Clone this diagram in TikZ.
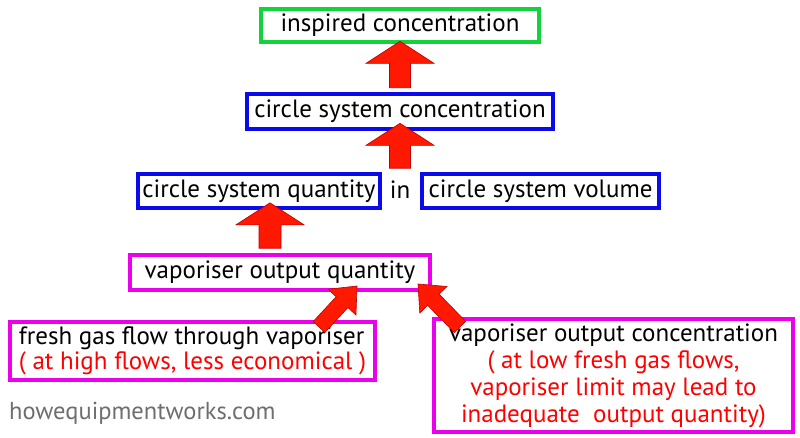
\documentclass[tikz,border=0pt]{standalone}
\usepackage{fontspec}
\setmainfont{PT Sans}
\usetikzlibrary{calc}
\definecolor{boxgreen}{RGB}{20,210,60}
\definecolor{boxblue}{RGB}{10,10,235}
\definecolor{boxmag}{RGB}{235,0,235}
\definecolor{txtred}{RGB}{255,0,0}
\definecolor{arrfill}{RGB}{255,25,0}
\definecolor{arredge}{RGB}{190,0,0}
\definecolor{wmgray}{RGB}{110,110,110}
\tikzset{
  box/.style={draw, line width=3.6pt, inner sep=0pt, font=\fontsize{25}{25}\selectfont},
  gbox/.style={box, draw=boxgreen},
  bbox/.style={box, draw=boxblue},
  mbox/.style={box, draw=boxmag},
  plain/.style={inner sep=0pt, font=\fontsize{25}{25}\selectfont},
  arrowstyle/.style={fill=arrfill, draw=arredge, line width=0.6pt, line join=miter},
}
\newcommand\bigarrow[5]{%
  \coordinate (neck) at ($(#2)!#5!(#1)$);
  \draw[arrowstyle] ($(#1)!#3!90:(#2)$) -- ($(neck)!#3!90:(#2)$) -- ($(neck)!#4!90:(#2)$)
    -- (#2) -- ($(neck)!#4!-90:(#2)$) -- ($(neck)!#3!-90:(#2)$) -- ($(#1)!#3!-90:(#2)$) -- cycle;}
\begin{document}
\begin{tikzpicture}[x=1pt,y=-1pt]
\useasboundingbox[fill=white] (0,0) rectangle (800,437);

\node[gbox, minimum width=278pt, minimum height=33pt] (insp) at (400,25.5) {inspired concentration};
\node[bbox, minimum width=306pt, minimum height=35pt] (csc) at (400,111.5) {circle system concentration};
\node[bbox, minimum width=242pt, minimum height=34pt] (csq) at (259,191) {circle system quantity};
\node[plain] (in) at (400,190) {in};
\node[bbox, minimum width=237pt, minimum height=34pt] (csv) at (540.5,191) {circle system volume};
\node[mbox, minimum width=300pt, minimum height=35pt] (voq) at (280,272.5) {vaporiser output quantity};
\node[mbox, minimum width=365pt, minimum height=58pt, align=left] (fgf) at (192.5,351)
  {fresh gas flow through vaporiser\\\textcolor{txtred}{( at high flows, less economical )}};
\node[mbox, minimum width=359pt, minimum height=113pt, align=center,
  font=\fontsize{25}{27}\selectfont] (voc) at (613.5,375.5)
  {vaporiser output concentration\\\textcolor{txtred}{( at low fresh gas flows,}\\
   \textcolor{txtred}{vaporiser limit may lead to}\\\textcolor{txtred}{inadequate\ \ output quantity)}};
\node[inner sep=0pt, anchor=west, text=wmgray, font=\fontsize{24.5}{26}\selectfont] (wm) at (9,413) {howequipmentworks.com};

% arrow end points
\coordinate (a1tail) at ($(csc.north)+(0,-4.5)$);
\coordinate (a1tip) at ($(insp.south)+(0,-2.5)$);
\coordinate (a2tail) at ($(csq.north -| csc.south)+(0,-4)$);
\coordinate (a2tip) at ($(csc.south)+(0,-7.5)$);
\coordinate (a3tail) at ($(voq.north)+(-10,-5)$);
\coordinate (a3tip) at ($(csq.south)+(11,-7)$);
\coordinate (a4tail) at (319,327);
\coordinate (a4tip) at (357,286);
\coordinate (a5tail) at (460,327);
\coordinate (a5tip) at (418,284);

\bigarrow{a1tail}{a1tip}{10.5pt}{34pt}{22pt}
\bigarrow{a2tail}{a2tip}{10.5pt}{34pt}{22pt}
\bigarrow{a3tail}{a3tip}{11pt}{34pt}{22pt}
\bigarrow{a4tail}{a4tip}{8pt}{19pt}{22pt}
\bigarrow{a5tail}{a5tip}{8pt}{19pt}{22pt}
\end{tikzpicture}
\end{document}
